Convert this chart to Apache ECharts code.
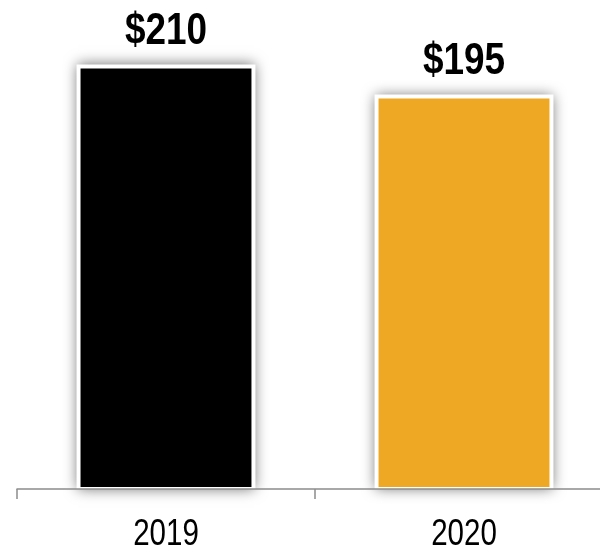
<!DOCTYPE html>
<html>
<head>
<meta charset="utf-8">
<style>
  html, body { margin: 0; padding: 0; background: #ffffff; }
  #chart { width: 600px; height: 552px; }
</style>
<script src="https://cdn.jsdelivr.net/npm/echarts@6/dist/echarts.min.js"></script>
</head>
<body>
<div id="chart"></div>
<script>
// Annual values per year
const years = ['2019', '2020'];
const values = [210, 195];
const barColors = ['#000000', '#EFA823'];

const fontFamily = '"Liberation Sans", Arial, sans-serif';
const narrow = 0.82;   // horizontal squeeze for a condensed look

const chart = echarts.init(document.getElementById('chart'), null, { renderer: 'canvas' });

function renderBar(params, api) {
  const idx = api.value(0);
  const val = api.value(1);
  const top = api.coord([idx, val]);
  const base = api.coord([idx, 0]);
  const band = api.size([1, 0])[0];
  const w = band * 0.587;
  const cx = top[0];
  return {
    type: 'group',
    children: [
      {
        // white frame with soft drop shadow
        type: 'rect',
        shape: { x: cx - w / 2 - 2, y: top[1] - 2, width: w + 4, height: base[1] - top[1] + 2 },
        style: {
          fill: '#ffffff',
          shadowColor: 'rgba(0,0,0,0.55)',
          shadowBlur: 13,
          shadowOffsetX: 0,
          shadowOffsetY: 0
        }
      },
      {
        type: 'rect',
        shape: { x: cx - w / 2 + 2, y: top[1] + 2, width: w - 4, height: base[1] - top[1] - 4 },
        style: { fill: barColors[params.dataIndex] }
      },
      {
        // value label
        type: 'text',
        x: cx,
        y: top[1] - 12,
        scaleX: narrow,
        style: {
          text: '$' + val,
          fontFamily: fontFamily,
          fontWeight: 'bold',
          fontSize: 45,
          fill: '#000000',
          align: 'center',
          verticalAlign: 'bottom'
        }
      },
      {
        // category label under the axis
        type: 'text',
        x: cx,
        y: base[1] + 28,
        scaleX: narrow,
        style: {
          text: years[params.dataIndex],
          fontFamily: fontFamily,
          fontSize: 36,
          fill: '#000000',
          align: 'center',
          verticalAlign: 'top'
        }
      }
    ]
  };
}

chart.setOption({
  animation: false,
  backgroundColor: '#ffffff',
  grid: { left: 17, right: -13, top: 6, bottom: 63, outerBoundsMode: 'none', containLabel: false },
  xAxis: {
    type: 'category',
    data: years,
    z: 5,
    axisLine: { show: true, lineStyle: { color: '#8c8c8c', width: 1.5 } },
    axisTick: { show: true, length: 10, lineStyle: { color: '#8c8c8c', width: 1.5 } },
    axisLabel: { show: false }
  },
  yAxis: {
    type: 'value',
    min: 0,
    max: 240,
    show: false,
    splitLine: { show: false }
  },
  series: [{
    type: 'custom',
    renderItem: renderBar,
    clip: false,
    encode: { x: 0, y: 1 },
    data: values.map((v, i) => [i, v])
  }]
});
</script>
</body>
</html>
